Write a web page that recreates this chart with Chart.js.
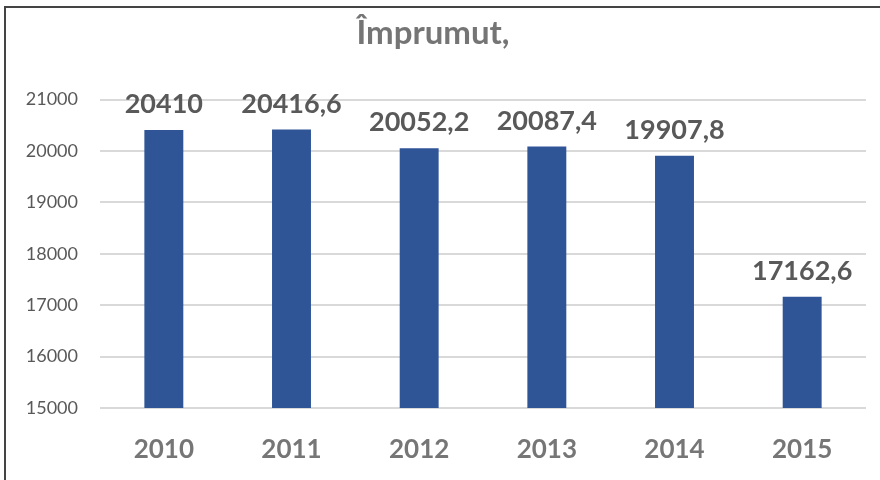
<!DOCTYPE html>
<html>
<head>
<meta charset="utf-8">
<script src="https://cdn.jsdelivr.net/npm/chart.js@4.4.0/dist/chart.umd.min.js"></script>
<style>
  html, body { margin: 0; padding: 0; background: #ffffff; }
  #wrap { width: 880px; height: 480px; position: relative; }
</style>
</head>
<body>
<div id="wrap"><canvas id="loanChart" width="880" height="480"></canvas></div>
<script>
  // chart data
  var years = ['2010', '2011', '2012', '2013', '2014', '2015'];
  var loanValues = [20410, 20416.6, 20052.2, 20087.4, 19907.8, 17162.6];
  var yTicks = [15000, 16000, 17000, 18000, 19000, 20000, 21000];

  document.addEventListener('DOMContentLoaded', function() {
    createBarChart();
  });

  // draws the value above each bar, with comma as decimal mark
  var valueLabels = {
    id: 'valueLabels',
    afterDatasetsDraw: function(chart) {
      var ctx = chart.ctx;
      var meta = chart.getDatasetMeta(0);
      ctx.save();
      ctx.font = 'bold 27px Lato';
      ctx.fillStyle = '#595959';
      ctx.textAlign = 'center';
      ctx.textBaseline = 'alphabetic';
      meta.data.forEach(function(bar, i) {
        var txt = String(loanValues[i]).replace('.', ',');
        ctx.fillText(txt, bar.x, bar.y - 17);
      });
      ctx.restore();
    }
  };

  // white background plus the top/left frame lines
  var frame = {
    id: 'frame',
    beforeDraw: function(chart) {
      var ctx = chart.ctx;
      ctx.save();
      ctx.fillStyle = '#ffffff';
      ctx.fillRect(0, 0, chart.width, chart.height);
      ctx.strokeStyle = '#444444';
      ctx.lineWidth = 2;
      ctx.beginPath();
      ctx.moveTo(5, chart.height);
      ctx.lineTo(5, 7);
      ctx.lineTo(chart.width, 7);
      ctx.stroke();
      ctx.restore();
    }
  };

  function createBarChart() {
    var canvas = document.getElementById('loanChart');

    var chartData = {
      labels: years,
      datasets: [{
        data: loanValues,
        backgroundColor: '#2F5597',
        borderWidth: 0,
        barPercentage: 0.305,
        categoryPercentage: 1
      }]
    };

    var chartOptions = {
      responsive: false,
      animation: false,
      layout: {
        padding: { left: 0, right: 14, top: 0, bottom: 0 }
      },
      plugins: {
        legend: { display: false },
        tooltip: { enabled: false },
        title: {
          display: true,
          text: 'Împrumut,',
          color: '#757575',
          font: { family: 'Lato', size: 33, weight: 'bold', lineHeight: 1.2 },
          padding: { top: 14, bottom: 46 }
        }
      },
      scales: {
        x: {
          grid: { display: false, drawTicks: false },
          border: { display: false },
          ticks: {
            color: '#767676',
            font: { family: 'Lato', size: 26, weight: 'bold' },
            padding: 26
          },
          afterFit: function(axis) { axis.height = 72; }
        },
        y: {
          min: 15000,
          max: 21000,
          afterBuildTicks: function(axis) {
            axis.ticks = yTicks.map(function(v) { return { value: v }; });
          },
          grid: { color: '#D9D9D9', lineWidth: 2, drawTicks: false },
          border: { display: false },
          ticks: {
            color: '#595959',
            font: { family: 'Lato', size: 18 },
            padding: 22,
            callback: function(value) { return String(value); }
          },
          afterFit: function(axis) { axis.width = 100; }
        }
      }
    };

    new Chart(canvas, {
      type: 'bar',
      data: chartData,
      options: chartOptions,
      plugins: [frame, valueLabels]
    });
  }
</script>
</body>
</html>
